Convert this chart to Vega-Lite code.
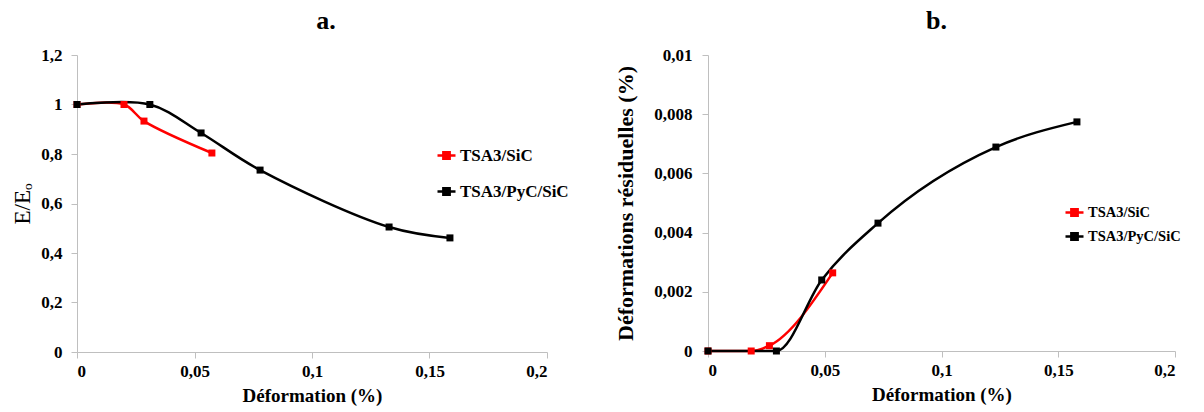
{
  "$schema": "https://vega.github.io/schema/vega-lite/v6.json",
  "background": "white",
  "padding": {"left": 11, "top": 8, "right": 5, "bottom": 5},
  "bounds": "flush",
  "spacing": 161,
  "config": {
    "font": "Liberation Serif",
    "view": {"stroke": null},
    "axis": {
      "domainColor": "#bfbfbf", "tickColor": "#bfbfbf", "grid": false,
      "labelFont": "Liberation Serif", "labelFontSize": 17, "labelFontWeight": "bold", "labelColor": "#000",
      "titleFont": "Liberation Serif", "titleFontSize": 19, "titleFontWeight": "bold", "titleColor": "#000",
      "tickSize": 6, "labelPadding": 5
    },
    "legend": {
      "labelFont": "Liberation Serif", "labelFontSize": 17, "labelFontWeight": "bold", "labelColor": "#000",
      "labelOffset": 3, "title": null
    },
    "title": {"font": "Liberation Serif", "fontSize": 26, "fontWeight": "bold", "color": "#000", "offset": 12}
  },
  "datasets": {
    "a": [
      {"serie": "TSA3/SiC", "x": 0, "y": 1.0},
      {"serie": "TSA3/SiC", "x": 0.020, "y": 1.0},
      {"serie": "TSA3/SiC", "x": 0.0285, "y": 0.933},
      {"serie": "TSA3/SiC", "x": 0.0574, "y": 0.804},
      {"serie": "TSA3/PyC/SiC", "x": 0, "y": 1.0},
      {"serie": "TSA3/PyC/SiC", "x": 0.031, "y": 1.0},
      {"serie": "TSA3/PyC/SiC", "x": 0.0528, "y": 0.885},
      {"serie": "TSA3/PyC/SiC", "x": 0.0779, "y": 0.735},
      {"serie": "TSA3/PyC/SiC", "x": 0.1328, "y": 0.505},
      {"serie": "TSA3/PyC/SiC", "x": 0.1587, "y": 0.461}
    ],
    "b": [
      {"serie": "TSA3/SiC", "x": 0, "y": 0},
      {"serie": "TSA3/SiC", "x": 0.0185, "y": 0},
      {"serie": "TSA3/SiC", "x": 0.0263, "y": 0.00018},
      {"serie": "TSA3/SiC", "x": 0.0534, "y": 0.00264},
      {"serie": "TSA3/PyC/SiC", "x": 0, "y": 0},
      {"serie": "TSA3/PyC/SiC", "x": 0.0293, "y": 0},
      {"serie": "TSA3/PyC/SiC", "x": 0.0487, "y": 0.0024},
      {"serie": "TSA3/PyC/SiC", "x": 0.0728, "y": 0.00432},
      {"serie": "TSA3/PyC/SiC", "x": 0.1233, "y": 0.00689},
      {"serie": "TSA3/PyC/SiC", "x": 0.158, "y": 0.00774}
    ]
  },
  "hconcat": [
    {
      "width": 470, "height": 297,
      "title": {"text": "a.", "dx": 14},
      "data": {"name": "a"},
      "encoding": {
        "x": {"field": "x", "type": "quantitative", "scale": {"domain": [0, 0.2], "nice": false},
              "axis": {"title": "Déformation (%)", "values": [0, 0.05, 0.1, 0.15, 0.2], "labelExpr": "replace(format(datum.value, '~g'), '.', ',')", "titlePadding": 7}},
        "y": {"field": "y", "type": "quantitative", "scale": {"domain": [0, 1.2], "nice": false},
              "axis": {"title": "E/Eₒ", "titleFontWeight": "normal", "titleFontSize": 23, "labelPadding": 9, "values": [0, 0.2, 0.4, 0.6, 0.8, 1, 1.2], "labelExpr": "replace(format(datum.value, '~g'), '.', ',')", "titlePadding": 6}}
      },
      "layer": [
        {"mark": {"type": "line", "interpolate": "catmull-rom", "strokeWidth": 2.5},
         "encoding": {"color": {"field": "serie", "type": "nominal", "scale": {"domain": ["TSA3/SiC", "TSA3/PyC/SiC"], "range": ["#ff0000", "#000000"]},
           "legend": {"orient": "none", "legendX": 359, "legendY": 90, "rowPadding": 17, "symbolType": "M-1,0H-0.35M0.35,0H1M-0.35,-0.35H0.35V0.35H-0.35Z", "symbolSize": 324, "symbolStrokeWidth": 2.5}}}},
        {"mark": {"type": "point", "shape": "square", "filled": true, "size": 49, "opacity": 1},
         "encoding": {"color": {"field": "serie", "type": "nominal", "scale": {"domain": ["TSA3/SiC", "TSA3/PyC/SiC"], "range": ["#ff0000", "#000000"]},
           "legend": {"orient": "none", "legendX": 359, "legendY": 90, "rowPadding": 17, "symbolType": "M-1,0H-0.35M0.35,0H1M-0.35,-0.35H0.35V0.35H-0.35Z", "symbolSize": 324, "symbolStrokeWidth": 2.5}}}}
      ]
    },
    {
      "width": 467, "height": 296,
      "title": {"text": "b.", "dx": -5},
      "data": {"name": "b"},
      "encoding": {
        "x": {"field": "x", "type": "quantitative", "scale": {"domain": [0, 0.2], "nice": false},
              "axis": {"title": "Déformation (%)", "values": [0, 0.05, 0.1, 0.15, 0.2], "labelExpr": "replace(format(datum.value, '~g'), '.', ',')", "titlePadding": 7}},
        "y": {"field": "y", "type": "quantitative", "scale": {"domain": [0, 0.01], "nice": false},
              "axis": {"title": "Déformations résiduelles (%)", "titleFontSize": 22, "labelPadding": 10, "values": [0, 0.002, 0.004, 0.006, 0.008, 0.01], "labelExpr": "replace(format(datum.value, '~g'), '.', ',')", "titlePadding": 16}}
      },
      "layer": [
        {"mark": {"type": "line", "interpolate": "monotone", "strokeWidth": 2.5},
         "encoding": {"color": {"field": "serie", "type": "nominal", "scale": {"domain": ["TSA3/SiC", "TSA3/PyC/SiC"], "range": ["#ff0000", "#000000"]},
           "legend": {"orient": "none", "legendX": 356, "legendY": 147, "rowPadding": 5, "labelFontSize": 14.5, "symbolType": "M-1,0H-0.35M0.35,0H1M-0.35,-0.35H0.35V0.35H-0.35Z", "symbolSize": 324, "symbolStrokeWidth": 2.5}}}},
        {"mark": {"type": "point", "shape": "square", "filled": true, "size": 49, "opacity": 1},
         "encoding": {"color": {"field": "serie", "type": "nominal", "scale": {"domain": ["TSA3/SiC", "TSA3/PyC/SiC"], "range": ["#ff0000", "#000000"]},
           "legend": {"orient": "none", "legendX": 356, "legendY": 147, "rowPadding": 5, "labelFontSize": 14.5, "symbolType": "M-1,0H-0.35M0.35,0H1M-0.35,-0.35H0.35V0.35H-0.35Z", "symbolSize": 324, "symbolStrokeWidth": 2.5}}}}
      ]
    }
  ],
  "resolve": {"scale": {"color": "independent"}, "legend": {"color": "independent"}}
}
